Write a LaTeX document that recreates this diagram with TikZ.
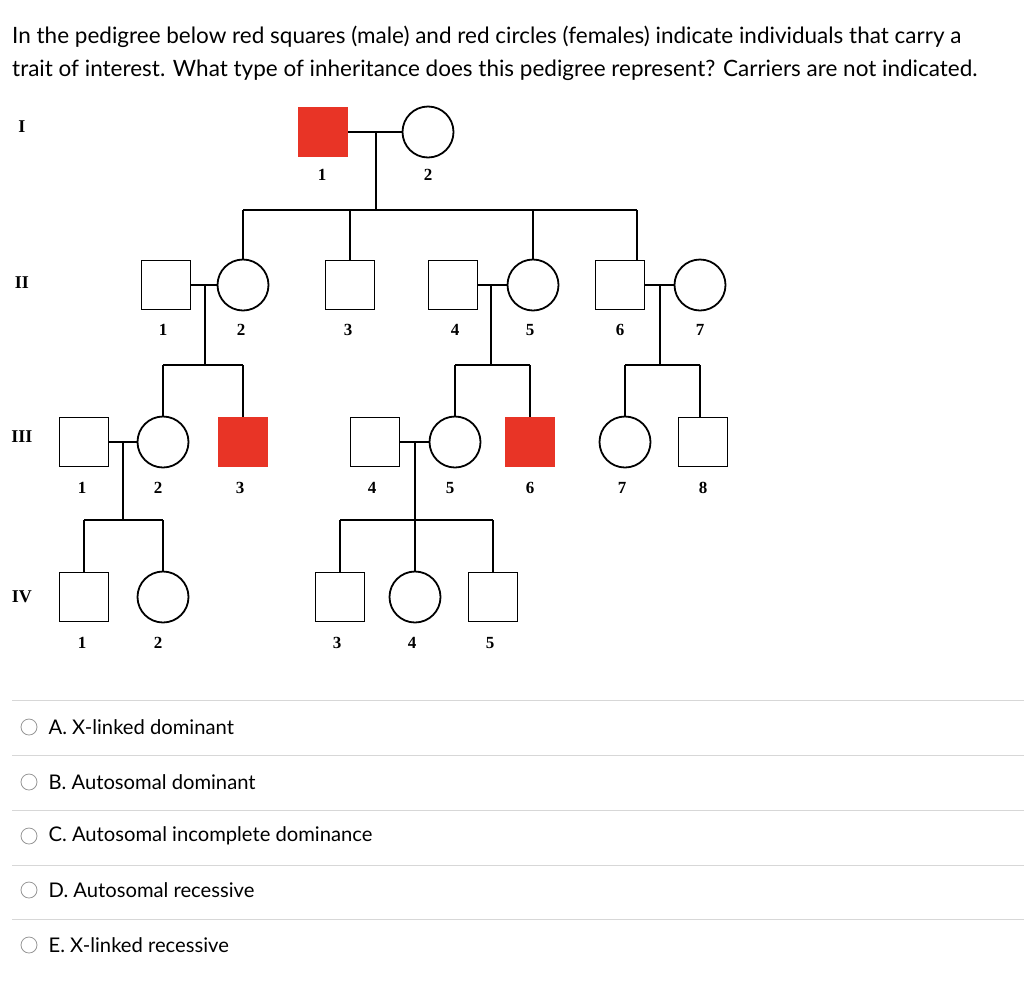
\documentclass[tikz,border=0pt]{standalone}
\usepackage{fontspec}
\setmainfont{Lato}
\newfontfamily\pedfont{Liberation Serif}
\definecolor{affred}{RGB}{232, 52, 38}
\definecolor{rulegray}{RGB}{215, 215, 215}
\definecolor{radiogray}{RGB}{150, 150, 150}
\usetikzlibrary{positioning,calc}

\begin{document}
\begin{tikzpicture}[x=1pt, y=-1pt,
    male/.style={rectangle, draw, line width=1.8pt, minimum size=49pt, inner sep=0pt},
    female/.style={circle, draw, line width=1.8pt, minimum size=51pt, inner sep=0pt},
    affected/.style={fill=affred, draw=affred},
    idlabel/.style={font=\pedfont\bfseries\fontsize{17}{17}\selectfont},
    genlabel/.style={font=\pedfont\bfseries\fontsize{18}{18}\selectfont},
    qtext/.style={font=\fontsize{22.5}{26}\selectfont, anchor=west, inner sep=0pt},
    otext/.style={font=\fontsize{20.2}{24}\selectfont, anchor=west, inner sep=0pt},
    radio/.style={circle, draw=radiogray, line width=0.8pt, minimum size=16pt, inner sep=0pt},
    pline/.style={line width=1.8pt}]
    \useasboundingbox (0,0) rectangle (1024,991);

    % Question
    \node[qtext] (q1) at (12,37) {In the pedigree below red squares (male) and red circles (females) indicate individuals that carry a};
    \node[qtext] (q2) at (12,70) {trait of interest. What type of inheritance does this pedigree represent? Carriers are not indicated.};

    % Generation labels
    \node[genlabel] (gI) at (22,127) {I};
    \node[genlabel] (gII) at (22,283) {II};
    \node[genlabel] (gIII) at (22,437) {III};
    \node[genlabel] (gIV) at (22,597) {IV};

    % Generation I
    \node[male, affected] (i1) at (323,132) {};
    \node[female] (i2) at (428,132) {};

    % Generation II
    \node[male] (ii1) at (166,285) {};
    \node[female] (ii2) at (243,285) {};
    \node[male] (ii3) at (350,285) {};
    \node[male] (ii4) at (453,285) {};
    \node[female] (ii5) at (533,285) {};
    \node[male] (ii6) at (620,285) {};
    \node[female] (ii7) at (700,285) {};

    % Generation III
    \node[male] (iii1) at (84,442) {};
    \node[female] (iii2) at (163,442) {};
    \node[male, affected] (iii3) at (243,442) {};
    \node[male] (iii4) at (375,442) {};
    \node[female] (iii5) at (455,442) {};
    \node[male, affected] (iii6) at (530,442) {};
    \node[female] (iii7) at (625,442) {};
    \node[male] (iii8) at (703,442) {};

    % Generation IV
    \node[male] (iv1) at (84,597) {};
    \node[female] (iv2) at (163,597) {};
    \node[male] (iv3) at (340,597) {};
    \node[female] (iv4) at (415,597) {};
    \node[male] (iv5) at (493,597) {};

    % Numbers
    \foreach \n/\x/\y in {1/322/175, 2/428/175,
        1/163/330, 2/241/330, 3/348/330, 4/455/330, 5/530/330, 6/620/330, 7/700/330,
        1/82/488, 2/158/488, 3/240/488, 4/372/488, 5/450/488, 6/530/488, 7/622/488, 8/703/488,
        1/82/643, 2/158/643, 3/337/643, 4/412/643, 5/490/643}
        \node[idlabel] at (\x,\y) {\n};

    % Marriages and descent
    \coordinate (mI) at (376,132);
    \coordinate (sI) at (376,210);
    \draw[pline] (i1.east) -- (i2.west);
    \draw[pline] (mI) -- (sI);
    \draw[pline] (243,210) -- (637,210);
    \draw[pline] (243,210) -- (ii2.north);
    \draw[pline] (350,210) -- (ii3.north);
    \draw[pline] (533,210) -- (ii5.north);
    \draw[pline] (637,210) -- (637,260.5);

    \draw[pline] (ii1.east) -- (ii2.west);
    \draw[pline] (ii4.east) -- (ii5.west);
    \draw[pline] (ii6.east) -- (ii7.west);
    \draw[pline] (205,285) -- (205,365);
    \draw[pline] (491,285) -- (491,365);
    \draw[pline] (660,285) -- (660,365);
    \draw[pline] (163,365) -- (243,365);
    \draw[pline] (455,365) -- (530,365);
    \draw[pline] (625,365) -- (700,365);
    \draw[pline] (163,365) -- (iii2.north);
    \draw[pline] (243,365) -- (iii3.north);
    \draw[pline] (455,365) -- (iii5.north);
    \draw[pline] (530,365) -- (iii6.north);
    \draw[pline] (625,365) -- (iii7.north);
    \draw[pline] (700,365) -- (700,417.5);

    \draw[pline] (iii1.east) -- (iii2.west);
    \draw[pline] (iii4.east) -- (iii5.west);
    \draw[pline] (123,442) -- (123,520);
    \draw[pline] (415,442) -- (415,520);
    \draw[pline] (84,520) -- (163,520);
    \draw[pline] (340,520) -- (493,520);
    \draw[pline] (84,520) -- (iv1.north);
    \draw[pline] (163,520) -- (iv2.north);
    \draw[pline] (340,520) -- (iv3.north);
    \draw[pline] (415,520) -- (iv4.north);
    \draw[pline] (493,520) -- (iv5.north);

    % Answer options
    \foreach \y in {700,755,810,865,919}
        \draw[rulegray, line width=0.8pt] (12,\y) -- (1024,\y);
    \foreach \i/\y/\t in {a/727/A. X-linked dominant, b/782/B. Autosomal dominant,
        c/836/C. Autosomal incomplete dominance, d/890/D. Autosomal recessive,
        e/945/E. X-linked recessive} {
        \node[radio] (r\i) at (29,\y) {};
        \node[otext, right=11pt of r\i] (t\i) {\t};
    }
\end{tikzpicture}
\end{document}
